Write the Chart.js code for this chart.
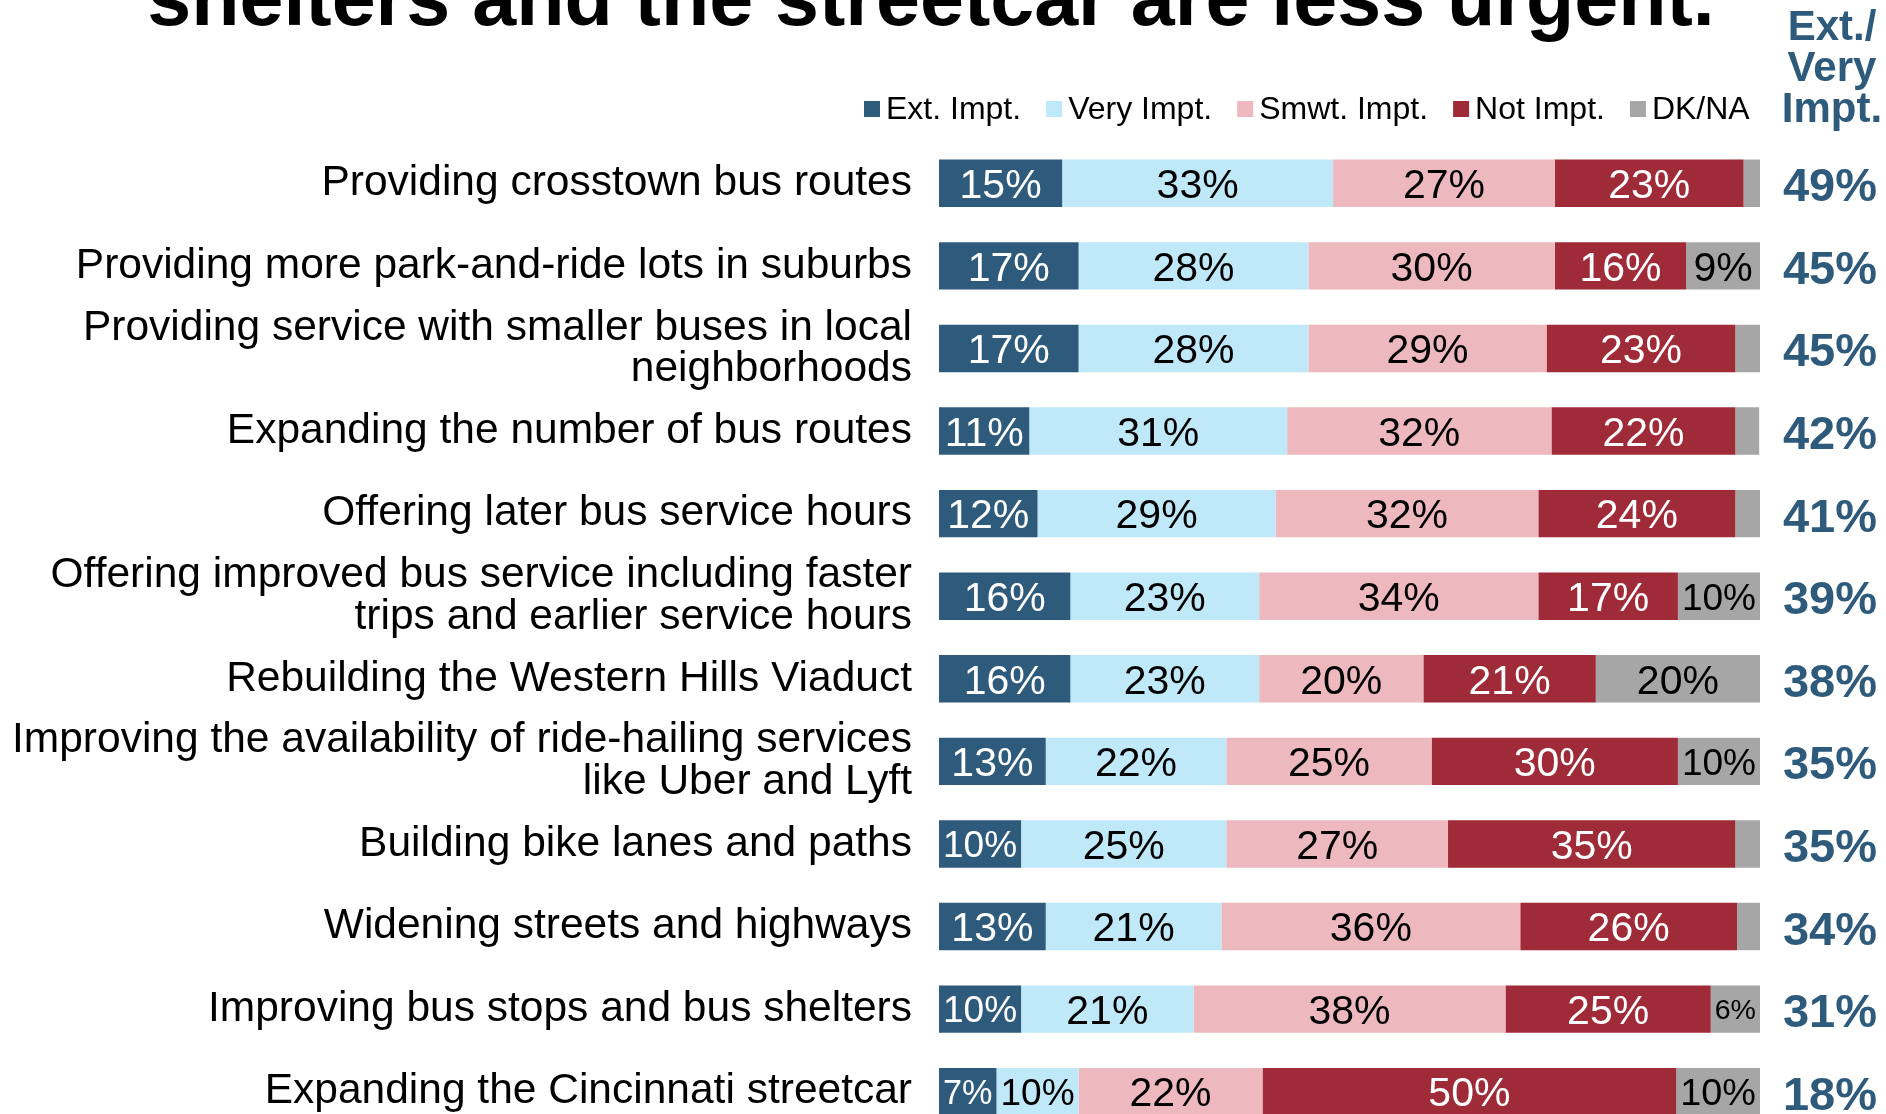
<!DOCTYPE html>
<html>
<head>
<meta charset="utf-8">
<title>Transit priorities</title>
<script src="https://cdn.jsdelivr.net/npm/chart.js@4/dist/chart.umd.min.js"></script>
<style>
    html, body { margin: 0; padding: 0; background: #fff; overflow: hidden; }
    #wrap { width: 1886px; height: 1150px; }
</style>
</head>
<body>
<div id="wrap"><canvas id="chart" width="1886" height="1150"></canvas></div>
<script>
// Items, top to bottom (multi-line labels are arrays)
const categories = [
    'Providing crosstown bus routes',
    'Providing more park-and-ride lots in suburbs',
    ['Providing service with smaller buses in local', 'neighborhoods'],
    'Expanding the number of bus routes',
    'Offering later bus service hours',
    ['Offering improved bus service including faster', 'trips and earlier service hours'],
    'Rebuilding the Western Hills Viaduct',
    ['Improving the availability of ride-hailing services', 'like Uber and Lyft'],
    'Building bike lanes and paths',
    'Widening streets and highways',
    'Improving bus stops and bus shelters',
    'Expanding the Cincinnati streetcar'
];

// Percent per response
const extImpt  = [15, 17, 17, 11,   12, 16, 16, 13, 10, 13,   10, 7];
const veryImpt = [33, 28, 28, 31.4, 29, 23, 23, 22, 25, 21.4, 21, 10];
const smwtImpt = [27, 30, 29, 32.2, 32, 34, 20, 25, 27, 36.4, 38, 22.4];
const notImpt  = [23, 16, 23, 22.4, 24, 17, 21, 30, 35, 26.4, 25, 50.4];
const dkNa     = [2,  9,  3,  2.9,  3,  10, 20, 10, 3,  2.9,  6,  10.2];

// Ext./Very Impt. combined column
const extVery = [49, 45, 45, 42, 41, 39, 38, 35, 35, 34, 31, 18];

const seriesNames = ['Ext. Impt.', 'Very Impt.', 'Smwt. Impt.', 'Not Impt.', 'DK/NA'];

const FONT = "'Liberation Sans', Arial, sans-serif";
const NAVY = '#2E5A7C';

const colors = {
    ext:  { bg: '#2E5A7C', text: '#FFFFFF' },
    very: { bg: '#BFE8F9', text: '#000000' },
    smwt: { bg: '#EDB9BE', text: '#000000' },
    not:  { bg: '#A02B38', text: '#FFFFFF' },
    dk:   { bg: '#A6A6A6', text: '#000000' }
};

function makeSet(label, data, c) {
    return {
        label: label,
        data: data,
        backgroundColor: c.bg,
        labelColor: c.text,
        borderWidth: 0,
        barPercentage: 0.575,
        categoryPercentage: 1.0
    };
}

// Draws segment labels, the title, legend and the right-hand column
const overlayPlugin = {
    id: 'overlay',
    afterDatasetsDraw: function(chart) {
        const ctx = chart.ctx;
        ctx.save();
        ctx.textAlign = 'center';
        ctx.textBaseline = 'alphabetic';
        chart.data.datasets.forEach((ds, i) => {
            const meta = chart.getDatasetMeta(i);
            meta.data.forEach((bar, j) => {
                const v = ds.data[j];
                if (v < 5) return;
                const p = bar.getProps(['x', 'y', 'base'], true);
                const w = Math.abs(p.x - p.base);
                const text = Math.round(v) + '%';
                let size = 41;
                ctx.font = size + 'px ' + FONT;
                const tw = ctx.measureText(text).width;
                if (tw > w - 8) size = size * (w - 8) / tw;
                ctx.font = size + 'px ' + FONT;
                ctx.fillStyle = ds.labelColor;
                ctx.fillText(text, (p.x + p.base) / 2, p.y + size * 0.36);
            });
        });
        ctx.restore();
    },
    afterDraw: function(chart) {
        const ctx = chart.ctx;
        ctx.save();

        // Title (cut off at the top, as in the source slide)
        ctx.font = 'bold 79px ' + FONT;
        ctx.fillStyle = '#000';
        ctx.textAlign = 'center';
        ctx.textBaseline = 'alphabetic';
        ctx.fillText('shelters and the streetcar are less urgent.', 931, 25);

        // Column header
        ctx.font = 'bold 42px ' + FONT;
        ctx.fillStyle = NAVY;
        ['Ext./', 'Very', 'Impt.'].forEach((t, k) => {
            ctx.fillText(t, 1832, 40 + k * 41);
        });

        // Legend
        ctx.font = '32px ' + FONT;
        ctx.textAlign = 'left';
        let x = 864;
        chart.data.datasets.forEach(ds => {
            ctx.fillStyle = ds.backgroundColor;
            ctx.fillRect(x, 101, 16, 16);
            ctx.fillStyle = '#000';
            ctx.fillText(ds.label, x + 22, 119);
            x += 22 + ctx.measureText(ds.label).width + 25;
        });

        // Ext./Very Impt. values
        const yScale = chart.scales.y;
        ctx.font = 'bold 47px ' + FONT;
        ctx.fillStyle = NAVY;
        ctx.textAlign = 'center';
        extVery.forEach((v, j) => {
            const y = yScale.getPixelForValue(j);
            ctx.fillText(v + '%', 1830, y + 18);
        });

        ctx.restore();
    }
};

const config = {
    type: 'bar',
    data: {
        labels: categories,
        datasets: [
            makeSet(seriesNames[0], extImpt, colors.ext),
            makeSet(seriesNames[1], veryImpt, colors.very),
            makeSet(seriesNames[2], smwtImpt, colors.smwt),
            makeSet(seriesNames[3], notImpt, colors.not),
            makeSet(seriesNames[4], dkNa, colors.dk)
        ]
    },
    options: {
        indexAxis: 'y',
        responsive: false,
        devicePixelRatio: 1,
        animation: false,
        events: [],
        layout: {
            padding: { top: 142, right: 126, bottom: 17, left: 0 }
        },
        scales: {
            x: {
                stacked: true,
                min: 0,
                max: 100,
                display: false
            },
            y: {
                stacked: true,
                grid: { display: false, drawTicks: false },
                border: { display: false },
                ticks: {
                    autoSkip: false,
                    padding: 27,
                    color: '#000',
                    font: { family: FONT, size: 42.5, lineHeight: 0.97 }
                },
                afterFit: function(scale) {
                    // fixed label column; no extra room for half-label overhang
                    scale.width = 939;
                    scale.paddingTop = 0;
                    scale.paddingBottom = 0;
                }
            }
        },
        plugins: {
            legend: { display: false },
            tooltip: { enabled: false },
            title: { display: false }
        }
    },
    plugins: [overlayPlugin]
};

new Chart(document.getElementById('chart').getContext('2d'), config);
</script>
</body>
</html>
